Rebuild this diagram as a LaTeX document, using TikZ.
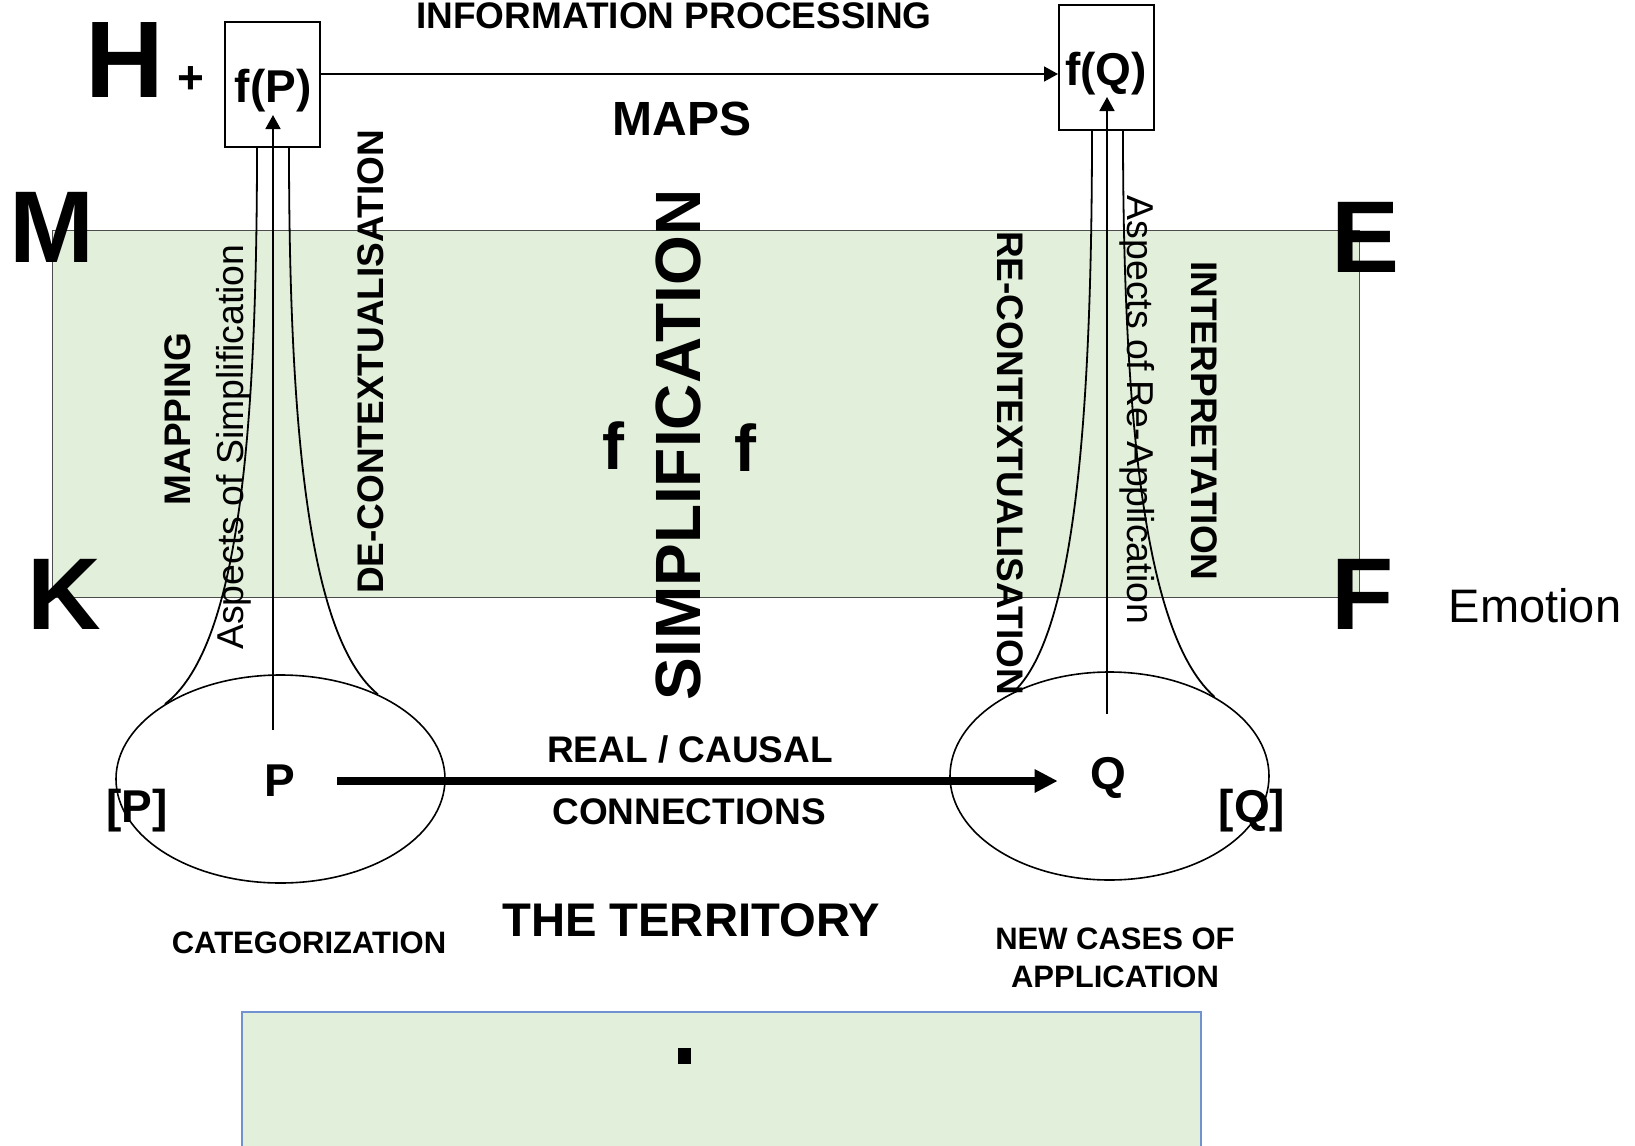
\documentclass[tikz,border=0pt]{standalone}
\usepackage{fontspec}
\setmainfont{Liberation Sans}
\usetikzlibrary{shapes.geometric,arrows.meta}
\definecolor{bandgreen}{RGB}{226,239,218}
\definecolor{edgeblue}{RGB}{112,146,208}

\begin{document}
\begin{tikzpicture}[x=0.5pt,y=-0.5pt,
  every node/.style={inner sep=0pt},
  bigltr/.style={font=\bfseries\fontsize{51}{60}\selectfont},
  caps/.style={font=\bfseries\fontsize{18.5}{22}\selectfont},
  small/.style={font=\bfseries\fontsize{15.5}{19}\selectfont},
  mid/.style={font=\bfseries\fontsize{23}{28}\selectfont},
  plain/.style={font=\fontsize{18.7}{22}\selectfont},
  fbox/.style={draw,line width=1pt,minimum width=47.5pt,minimum height=62.5pt},
  terr/.style={draw,ellipse,line width=0.8pt},
  thin/.style={line width=0.9pt},
  tip/.style={-{Triangle[length=7pt,width=7.5pt]}},
  causal/.style={line width=4pt,-{Triangle[length=11.5pt,width=11pt]}}]
\useasboundingbox (0,0) rectangle (1635,1146);
\draw[fill=bandgreen,draw=black!70,line width=0.5pt] (52,230) rectangle (1359,597);
\fill[bandgreen] (242,1012) rectangle (1201,1146);
\draw[edgeblue,line width=1pt] (242,1146) -- (242,1012) -- (1201,1012) -- (1201,1146);
\fill (678,1048) rectangle (691,1064);

\node[fbox] (fp) at (272.5,84.5) {};
\node[fbox] (fq) at (1106.5,67.5) {};
\node[mid] (fptxt) at (273,91) {f(P)};
\node[mid] (fqtxt) at (1106,74) {f(Q)};
\draw[thin,tip] ([yshift=5.25pt]fp.east) -- ([yshift=-3.25pt]fq.west);

\node[terr,minimum width=164.5pt,minimum height=104pt] (pell) at (280.5,779) {};
\node[terr,minimum width=159.5pt,minimum height=104pt] (qell) at (1109.5,776) {};
\node[mid] (pt) at (280,781) {P};
\node[mid] (qt) at (1108,778) {Q};
\node[mid] (pcls) at (137,811) {[P]};
\node[mid] (qcls) at (1252,811) {[Q]};
\draw[causal,shorten <=20.8pt,shorten >=16pt] (pt.east) -- (pt.east -| qt.west);

\coordinate (ptop) at (273,115);
\coordinate (pbot) at (273,730);
\coordinate (qtop) at (1107,97);
\coordinate (qbot) at (1107,714);
\draw[thin,tip] (pbot) -- (ptop);
\draw[thin,tip] (qbot) -- (qtop);
\draw[thin] ([xshift=-7.75pt]fp.south) .. controls (257,450) and (236,650) .. (pell.147);
\draw[thin] ([xshift=8.25pt]fp.south) .. controls (289,450) and (312,640) .. (pell.41);
\draw[thin] ([xshift=-7.25pt]fq.south) .. controls (1092,450) and (1070,640) .. (qell.139);
\draw[thin] ([xshift=8.25pt]fq.south) .. controls (1123,450) and (1150,640) .. (qell.37);

\node[font=\bfseries\fontsize{54.5}{60}\selectfont] (hltr) at (125,60) {H};
\node[mid] (plus) at (191,80) {+};
\node[caps] (info) at (674,16) {INFORMATION PROCESSING};
\node[font=\bfseries\fontsize{24}{28}\selectfont] (maps) at (682,119) {MAPS};
\node[bigltr] (mltr) at (52,227) {M};
\node[bigltr] (kltr) at (64,594) {K};
\node[bigltr] (eltr) at (1366,237) {E};
\node[bigltr] (fltr) at (1363,594) {F};
\node[font=\fontsize{23.5}{28}\selectfont,anchor=base] (emo) at (1535,622) {Emotion};

\node[font=\bfseries\fontsize{32}{36}\selectfont,rotate=90] (simp) at (678,445) {SIMPLIFICATION};
\node[font=\bfseries\fontsize{33}{36}\selectfont] (fleft) at (613,446) {f};
\node[font=\bfseries\fontsize{33}{36}\selectfont] (fright) at (745,448) {f};
\node[caps,rotate=90] (mapping) at (178,419) {MAPPING};
\node[plain,rotate=90,anchor=base] (asimp) at (243,447) {Aspects of Simplification};
\node[caps,rotate=90] (decon) at (371,362) {DE-CONTEXTUALISATION};
\node[caps,rotate=-90] (recon) at (1010,463) {RE-CONTEXTUALISATION};
\node[plain,rotate=-90,anchor=base] (aappl) at (1127.5,410) {Aspects of Re-Application};
\node[caps,rotate=-90] (interp) at (1204,421) {INTERPRETATION};

\node[caps] (real) at (690,749) {REAL / CAUSAL};
\node[caps] (conn) at (689,812) {CONNECTIONS};
\node[font=\bfseries\fontsize{23.6}{28}\selectfont] (terrtxt) at (691,920) {THE TERRITORY};
\node[small] (categ) at (309,943) {CATEGORIZATION};
\node[small,align=center] (newcases) at (1115,958) {NEW CASES OF\\APPLICATION};
\end{tikzpicture}
\end{document}
